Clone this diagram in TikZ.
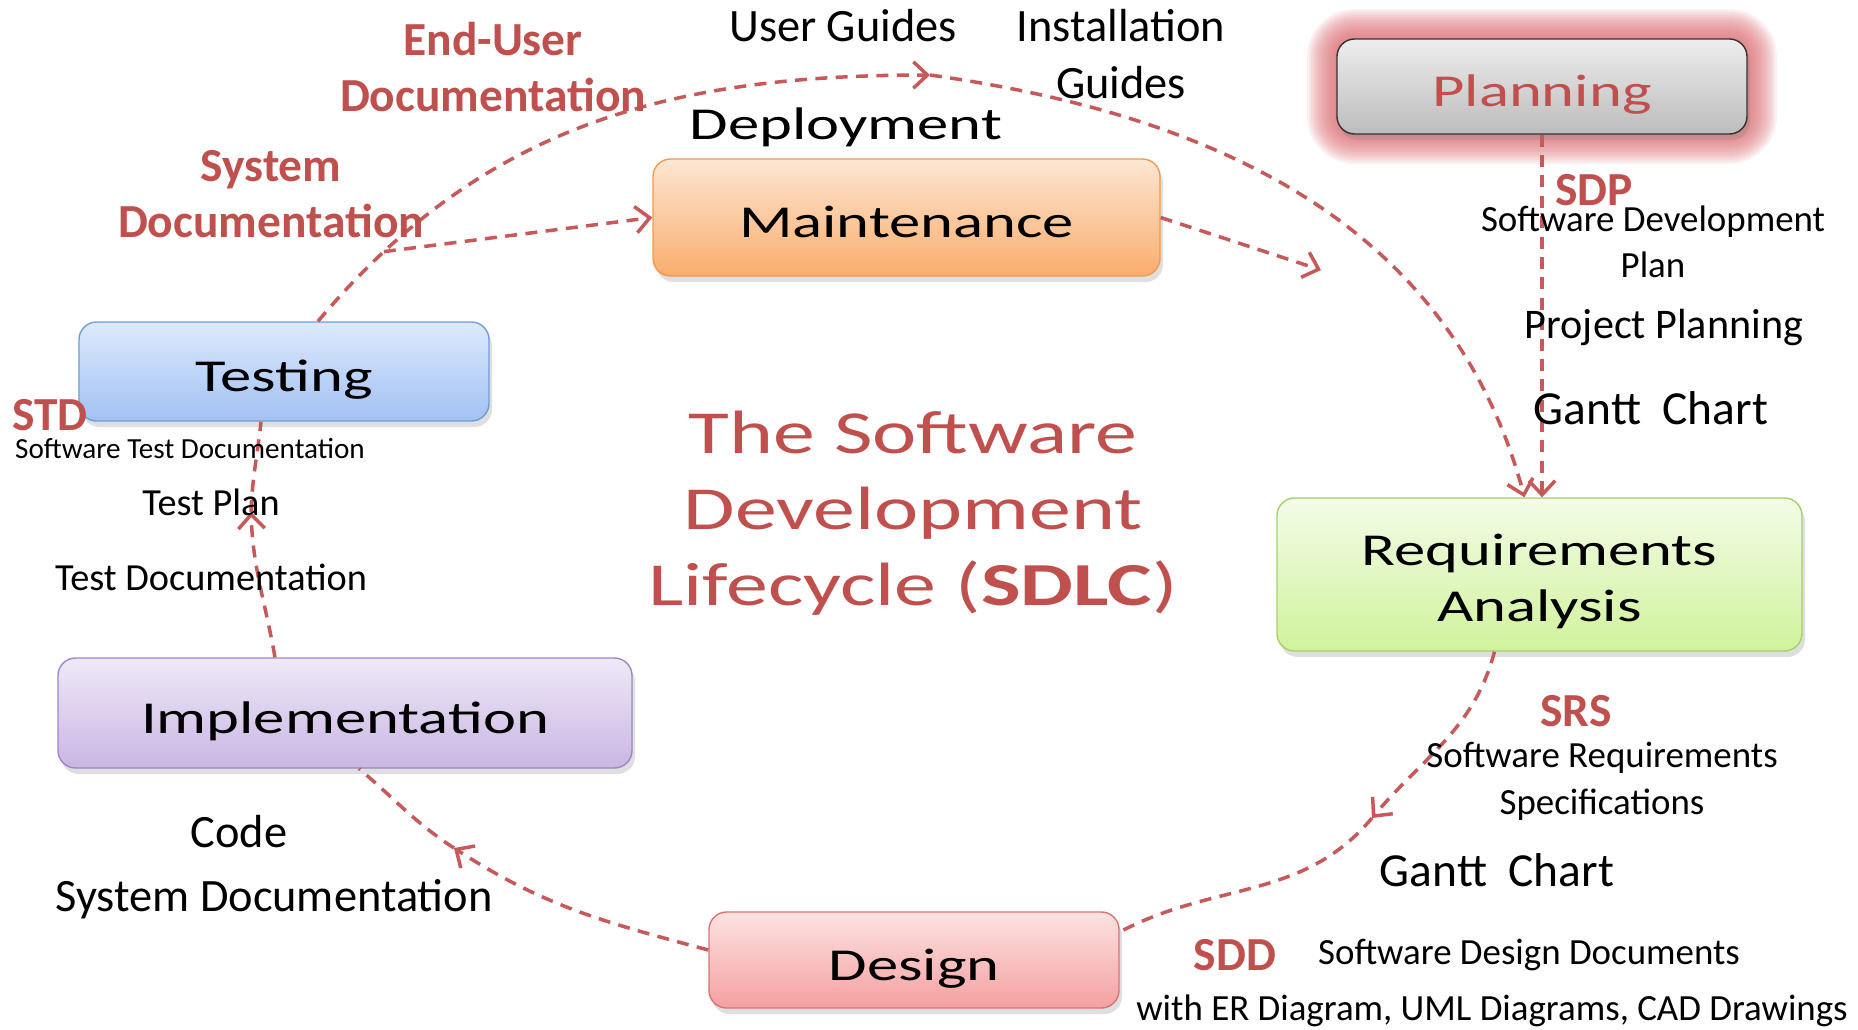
\documentclass[tikz,border=0pt]{standalone}
\usepackage{fontspec}
\setmainfont{Carlito}
\newfontfamily\boxfont[FakeStretch=1.37]{Carlito}
\usetikzlibrary{shadows,arrows.meta}

\definecolor{sdlcred}{HTML}{C0504D}
\definecolor{arrowred}{HTML}{C65A5A}
\definecolor{glowred}{HTML}{D9666C}
\definecolor{plantop}{HTML}{EDEDED}
\definecolor{planbot}{HTML}{BCBCBC}
\definecolor{mainttop}{HTML}{FDE6D2}
\definecolor{maintbot}{HTML}{FAAD6C}
\definecolor{maintline}{HTML}{F29A4E}
\definecolor{testtop}{HTML}{DDE9FC}
\definecolor{testbot}{HTML}{A2C1F3}
\definecolor{testline}{HTML}{729CD8}
\definecolor{reqtop}{HTML}{F3FCE7}
\definecolor{reqbot}{HTML}{D0F29C}
\definecolor{reqline}{HTML}{A6CF6E}
\definecolor{impltop}{HTML}{EEE9F7}
\definecolor{implbot}{HTML}{C9B6E3}
\definecolor{implline}{HTML}{9C88C6}
\definecolor{destop}{HTML}{FDE2E2}
\definecolor{desbot}{HTML}{F4A0A0}
\definecolor{desline}{HTML}{D77575}

\begin{document}
\begin{tikzpicture}
  \tikzstyle{phase} = [rounded corners=5pt, inner sep=0pt, align=center, font=\boxfont\fontsize{13}{16}\selectfont, drop shadow={opacity=0.25, shadow xshift=0.03cm, shadow yshift=-0.06cm}]
  \tikzstyle{oneline} = [text height=11.6pt, text depth=0pt]
  \tikzstyle{flow} = [dash pattern=on 3.4pt off 2.4pt, line width=1pt, arrowred, -{Straight Barb[length=4pt, width=7.5pt]}]
  \tikzstyle{line} = [flow, -]
  \tikzstyle{redlabel} = [text=sdlcred, font=\bfseries\fontsize{13.5}{16}\selectfont, align=center]
  \tikzstyle{note} = [font=\fontsize{13.2}{16.2}\selectfont, align=center]
  \tikzstyle{smallnote} = [font=\fontsize{10.5}{13}\selectfont, align=center]

  \useasboundingbox (0,0) rectangle (18.58,-10.30);

  \foreach \g in {0.02,0.04,...,0.30}
    \fill[glowred, opacity=0.09, rounded corners={5pt+\g cm}] ({13.37-\g},{-1.34-\g}) rectangle ({17.47+\g},{-0.39+\g});

  \node[phase, oneline, top color=plantop, bottom color=planbot, draw=black!80, text=sdlcred, minimum width=4.1cm, minimum height=0.95cm] (plan) at (15.42,-0.865) {Planning};
  \node[phase, oneline, top color=mainttop, bottom color=maintbot, draw=maintline, minimum width=5.07cm, minimum height=1.17cm] (maint) at (9.065,-2.175) {Maintenance};
  \node[phase, oneline, top color=testtop, bottom color=testbot, draw=testline, minimum width=4.1cm, minimum height=0.99cm] (test) at (2.84,-3.715) {Testing};
  \node[phase, top color=reqtop, bottom color=reqbot, draw=reqline, minimum width=5.25cm, minimum height=1.53cm] (req) at (15.395,-5.745) {\rule{0pt}{13pt}Requirements\\Analysis};
  \node[phase, oneline, top color=impltop, bottom color=implbot, draw=implline, minimum width=5.74cm, minimum height=1.10cm] (impl) at (3.45,-7.13) {Implementation};
  \node[phase, oneline, top color=destop, bottom color=desbot, draw=desline, minimum width=4.1cm, minimum height=0.96cm] (design) at (9.14,-9.60) {Design};

  \coordinate (top) at (9.30,-0.75);
  \coordinate (maintend) at (13.21,-2.70);
  \coordinate (srsarrow) at (13.72,-8.18);
  \coordinate (implarrow) at (4.54,-8.48);
  \coordinate (testarrow) at (2.51,-5.12);

  \draw[flow] ([xshift=0.34cm]test.north) to[out=50,in=180] coordinate[pos=0.13] (sysdoc) (top);
  \draw[flow] (top) to[out=-8,in=105] ([xshift=-0.15cm]req.north);
  \draw[flow] (sysdoc) -- (maint.west);
  \draw[flow] (maint.east) -- (maintend);
  \draw[flow] (plan.south) -- (plan.south |- req.north);
  \draw[flow] ([xshift=-0.45cm]req.south) to[out=-105,in=50] (srsarrow);
  \draw[line] (srsarrow) to[out=-130,in=28] ([yshift=0.28cm]design.east);
  \draw[flow] ([yshift=0.1cm]design.west) to[out=165,in=-33] (implarrow);
  \draw[line] (implarrow) to[out=147,in=-40] ([xshift=0.14cm]impl.south);
  \draw[flow] ([xshift=-0.7cm]impl.north) to[out=100,in=-88] (testarrow);
  \draw[line] (testarrow) to[out=88,in=-96] ([xshift=-0.23cm]test.south);

  \node[redlabel] (enduser) at (4.93,-0.67) {End-User\\Documentation};
  \node[redlabel] (sysdoclabel) at (2.71,-1.94) {System\\Documentation};
  \node[note] (guides) at (8.43,-0.26) {User Guides};
  \node[note] (install) at (11.21,-0.545) {Installation\\Guides};
  \node[font=\boxfont\fontsize{13}{16}\selectfont] (deploy) at (8.46,-1.27) {Deployment};

  \node[redlabel] (sdp) at (15.94,-1.90) {SDP};
  \node[smallnote] (sdptext) at (16.53,-2.42) {Software Development\\Plan};
  \node[note, font=\fontsize{12}{14}\selectfont] (projplan) at (16.64,-3.27) {Project Planning};
  \node[note, font=\fontsize{13.5}{16}\selectfont] (gantt1) at (16.51,-4.08) {Gantt~~Chart};

  \node[redlabel] (std) at (0.50,-4.15) {STD};
  \node[font=\fontsize{8.3}{10}\selectfont] (stdtext) at (1.90,-4.49) {Software Test Documentation};
  \node[font=\fontsize{10.9}{13}\selectfont] (testplan) at (2.11,-5.02) {Test Plan};
  \node[font=\fontsize{10.9}{13}\selectfont] (testdoc) at (2.11,-5.77) {Test Documentation};

  \node[text=sdlcred, align=center, font=\boxfont\fontsize{17.4}{21.6}\selectfont] (title) at (9.13,-5.13) {The Software\\Development\\Lifecycle (\textbf{SDLC})};

  \node[redlabel] (srs) at (15.76,-7.11) {SRS};
  \node[smallnote, font=\fontsize{10.5}{13.4}\selectfont] (srstext) at (16.02,-7.815) {Software Requirements\\Specifications};
  \node[note, font=\fontsize{13.5}{16}\selectfont] (gantt2) at (14.97,-8.70) {Gantt~~Chart};

  \node[note] (code) at (2.39,-8.32) {Code};
  \node[note] (sysdoc2) at (2.74,-8.99) {System Documentation};

  \node[redlabel] (sdd) at (12.35,-9.55) {SDD};
  \node[smallnote] (sddtext) at (15.29,-9.55) {Software Design Documents};
  \node[smallnote] (erdiag) at (14.92,-10.11) {with ER Diagram, UML Diagrams, CAD Drawings};
\end{tikzpicture}
\end{document}
